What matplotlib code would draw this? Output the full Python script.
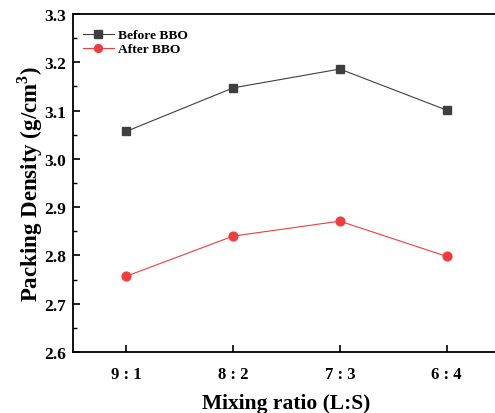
import numpy as np
import matplotlib
matplotlib.use('Agg')
import matplotlib.pyplot as plt
from matplotlib.ticker import MultipleLocator

plt.rcParams['font.family'] = ['Liberation Serif', 'DejaVu Serif']
plt.rcParams['font.weight'] = 'bold'
plt.rcParams['mathtext.fontset'] = 'custom'
plt.rcParams['mathtext.rm'] = 'Liberation Serif:bold'

ratios = ['9 : 1', '8 : 2', '7 : 3', '6 : 4']
before_bbo = [3.057, 3.147, 3.186, 3.101]
after_bbo = [2.757, 2.840, 2.871, 2.798]


def graficar():
    fig = plt.figure(figsize=(4.95, 4.14), dpi=100)
    ax = fig.add_axes([73 / 495, 61 / 414, 427 / 495, 338 / 414])
    x = np.arange(len(ratios))

    ax.plot(x, before_bbo, 's-', color='#3f3f3f', lw=0.8, ms=5.8, label='Before BBO')
    ax.plot(x, after_bbo, 'o-', color='#f03c3c', lw=0.8, ms=6.3, label='After BBO')

    ax.set_xlim(-0.5, 3.5)
    ax.set_ylim(2.6, 3.3)
    ax.set_xticks(x)
    ax.set_xticklabels(ratios)
    ax.yaxis.set_major_locator(MultipleLocator(0.1))
    ax.yaxis.set_minor_locator(MultipleLocator(0.05))
    ax.yaxis.set_major_formatter(plt.FormatStrFormatter('%.1f'))

    ax.tick_params(axis='both', which='major', direction='in', length=5, width=1.2)
    ax.tick_params(axis='x', labelsize=12, pad=10)
    ax.tick_params(axis='y', labelsize=12.5, pad=5)
    ax.tick_params(axis='y', which='minor', direction='in', length=3, width=1.0)
    for s in ax.spines.values():
        s.set_linewidth(1.3)
    ax.spines['right'].set_visible(False)

    ax.set_xlabel('Mixing ratio (L:S)', fontsize=15.5, fontweight='bold', labelpad=8)
    ax.set_ylabel('Packing Density (g/cm$^3$)', fontsize=16.5, fontweight='bold', labelpad=-1)

    ax.legend(loc='upper left', bbox_to_anchor=(10 / 427, 1 - 15 / 338), frameon=False,
              prop={'weight': 'bold', 'size': 9.7}, markerscale=0.9,
              handlelength=2.3, borderaxespad=0, borderpad=0, labelspacing=0.12,
              handletextpad=0.3)

    fig.savefig('out.png', dpi=100)


if __name__ == '__main__':
    graficar()
